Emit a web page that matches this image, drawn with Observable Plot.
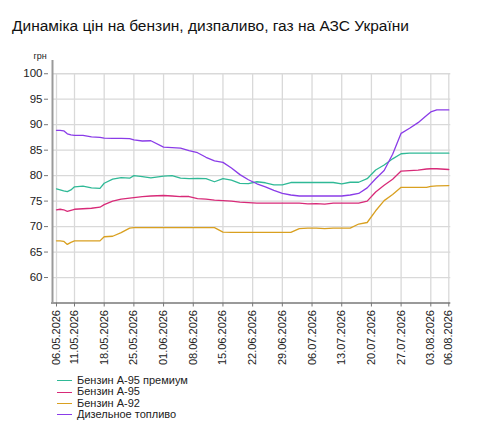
<!DOCTYPE html>
<html>
<head>
<meta charset="utf-8">
<script src="https://cdn.jsdelivr.net/npm/d3@7"></script>
<script src="https://cdn.jsdelivr.net/npm/@observablehq/plot@0.6"></script>
<style>
  html, body { margin: 0; padding: 0; background: #fff; }
  body { width: 490px; height: 430px; overflow: hidden; font-family: "Liberation Sans", Arial, sans-serif; position: relative; }
  #title { position: absolute; left: 12px; top: 17px; font-size: 15.5px; color: #111; white-space: nowrap; }
  #chart { position: absolute; left: 0; top: 40px; }
  #legend { position: absolute; left: 57px; top: 375px; font-size: 11px; color: #222; }
  .item { height: 11.4px; line-height: 11.4px; display: flex; align-items: center; white-space: nowrap; }
  .sw { width: 15px; height: 0; border-top: 1.3px solid; margin-right: 5px; }
</style>
</head>
<body>
<div id="title">Динаміка цін на бензин, дизпаливо, газ на АЗС України</div>
<div id="chart"></div>
<div id="legend"></div>
<script>
// ---- data ----
const dates = ["2026-05-06","2026-05-07","2026-05-08","2026-05-09","2026-05-10","2026-05-11","2026-05-13","2026-05-15","2026-05-17","2026-05-18",
  "2026-05-20","2026-05-22","2026-05-24","2026-05-25","2026-05-27","2026-05-29","2026-06-01","2026-06-03","2026-06-05","2026-06-07",
  "2026-06-09","2026-06-11","2026-06-13","2026-06-15","2026-06-17","2026-06-19","2026-06-21","2026-06-23","2026-06-25","2026-06-27",
  "2026-06-29","2026-07-01","2026-07-03","2026-07-05","2026-07-07","2026-07-09","2026-07-11","2026-07-13","2026-07-15","2026-07-17",
  "2026-07-19","2026-07-21","2026-07-23","2026-07-25","2026-07-27","2026-07-29","2026-07-31","2026-08-02","2026-08-03","2026-08-04","2026-08-06"];

const premium95 = [77.4,77.2,77.0,76.85,77.2,77.8,77.95,77.6,77.5,78.5,
  79.3,79.6,79.5,80.0,79.8,79.55,79.9,80.0,79.5,79.4,
  79.45,79.4,78.8,79.4,79.1,78.5,78.45,78.8,78.6,78.2,
  78.2,78.65,78.65,78.65,78.65,78.65,78.65,78.4,78.7,78.7,
  79.4,81.1,82.1,83.3,84.3,84.4,84.4,84.4,84.4,84.4,84.4];

const a95 = [73.3,73.4,73.3,73.0,73.2,73.4,73.5,73.6,73.8,74.3,
  75.0,75.4,75.6,75.7,75.9,76.0,76.1,76.0,75.9,75.9,
  75.5,75.4,75.2,75.1,75.0,74.8,74.7,74.6,74.6,74.6,
  74.6,74.6,74.6,74.45,74.5,74.4,74.6,74.6,74.6,74.6,
  75.0,76.8,78.1,79.3,80.9,81.0,81.1,81.3,81.35,81.35,81.2];

const a92 = [67.2,67.2,67.1,66.5,66.9,67.2,67.2,67.2,67.2,68.0,
  68.1,68.8,69.7,69.8,69.8,69.8,69.8,69.8,69.8,69.8,
  69.8,69.8,69.8,68.9,68.85,68.85,68.85,68.85,68.85,68.85,
  68.85,68.85,69.6,69.7,69.7,69.6,69.7,69.7,69.7,70.5,
  70.8,73.1,75.1,76.3,77.7,77.7,77.7,77.7,77.9,78.0,78.05];

const diesel = [88.9,88.9,88.8,88.2,88.0,87.9,87.9,87.6,87.5,87.35,
  87.3,87.3,87.25,87.0,86.8,86.85,85.6,85.5,85.4,84.9,
  84.5,83.6,82.9,82.6,81.5,80.2,79.2,78.4,77.8,77.1,
  76.5,76.2,76.0,76.0,76.0,76.0,76.0,76.0,76.2,76.5,
  77.6,79.4,81.0,84.2,88.3,89.3,90.4,91.8,92.5,92.9,92.9];

const seriesNames = ["Бензин А-95 премиум", "Бензин А-95", "Бензин А-92", "Дизельное топливо"];
const seriesValues = [premium95, a95, a92, diesel];
const seriesColors = ["#2fb996", "#d82a78", "#d9a020", "#8a3ce8"];

const tickDates = ["2026-05-06","2026-05-11","2026-05-18","2026-05-25","2026-06-01","2026-06-08","2026-06-15","2026-06-22",
  "2026-06-29","2026-07-06","2026-07-13","2026-07-20","2026-07-27","2026-08-03","2026-08-06"];
const yTicks = [60, 65, 70, 75, 80, 85, 90, 95, 100];
const yUnit = "грн";

// ---- build ----
const parse = d3.utcParse("%Y-%m-%d");
const rows = [];
seriesNames.forEach((name, i) => {
  dates.forEach((d, j) => rows.push({date: parse(d), value: seriesValues[i][j], series: name}));
});
const ticks = tickDates.map(parse);
const first = ticks[0], last = ticks[ticks.length - 1];

const H = 330;
const chart = Plot.plot({
  width: 490,
  height: H,
  marginLeft: 52,
  marginRight: 40,
  marginTop: 20,
  marginBottom: 67.5,
  style: {fontFamily: "'Liberation Sans', Arial, sans-serif", fontSize: "11px", color: "#333", background: "#fff"},
  x: {type: "utc", domain: [first, ticks[1], ticks[ticks.length - 2], last], range: [56, 74, 430.3, 448.3]},
  y: {domain: [55, 102.6], range: [262.5, 20]},
  color: {domain: seriesNames, range: seriesColors},
  marks: [
    Plot.ruleY(yTicks, {x1: first, x2: last, insetLeft: -4, insetRight: -2, stroke: "#d9d9d9", strokeWidth: 1.3}),
    Plot.ruleX(ticks, {y1: 55, y2: 100, stroke: "#d9d9d9", strokeWidth: 1.3}),
    Plot.ruleX([first], {y1: 55, y2: 102.6, dx: -4, stroke: "#9a9a9a", strokeWidth: 2}),
    Plot.ruleY([55], {x1: first, x2: last, insetLeft: -5, insetRight: -2, stroke: "#9a9a9a", strokeWidth: 2}),
    Plot.axisY({ticks: yTicks, tickSize: 4, tickPadding: 2, dx: -4, fontSize: 11.5, label: null, stroke: "#777", fill: "#222"}),
    Plot.axisX({ticks: ticks, tickSize: 4, tickPadding: 3, tickRotate: -90, fontSize: 11, label: null,
      tickFormat: d3.utcFormat("%d.%m.%Y"), stroke: "#777", fill: "#222"}),
    Plot.text([yUnit], {frameAnchor: "top-left", dx: -19, dy: -8, fontSize: 9, fill: "#222", textAnchor: "start"}),
    Plot.line(rows, {x: "date", y: "value", z: "series", stroke: "series", strokeWidth: 1.3, curve: "linear"})
  ]
});
document.getElementById("chart").appendChild(chart);

const legend = document.getElementById("legend");
seriesNames.forEach((n, i) => {
  const it = document.createElement("div");
  it.className = "item";
  const sw = document.createElement("span");
  sw.className = "sw";
  sw.style.borderTopColor = seriesColors[i];
  const t = document.createElement("span");
  t.textContent = n;
  it.appendChild(sw); it.appendChild(t);
  legend.appendChild(it);
});
</script>
</body>
</html>
